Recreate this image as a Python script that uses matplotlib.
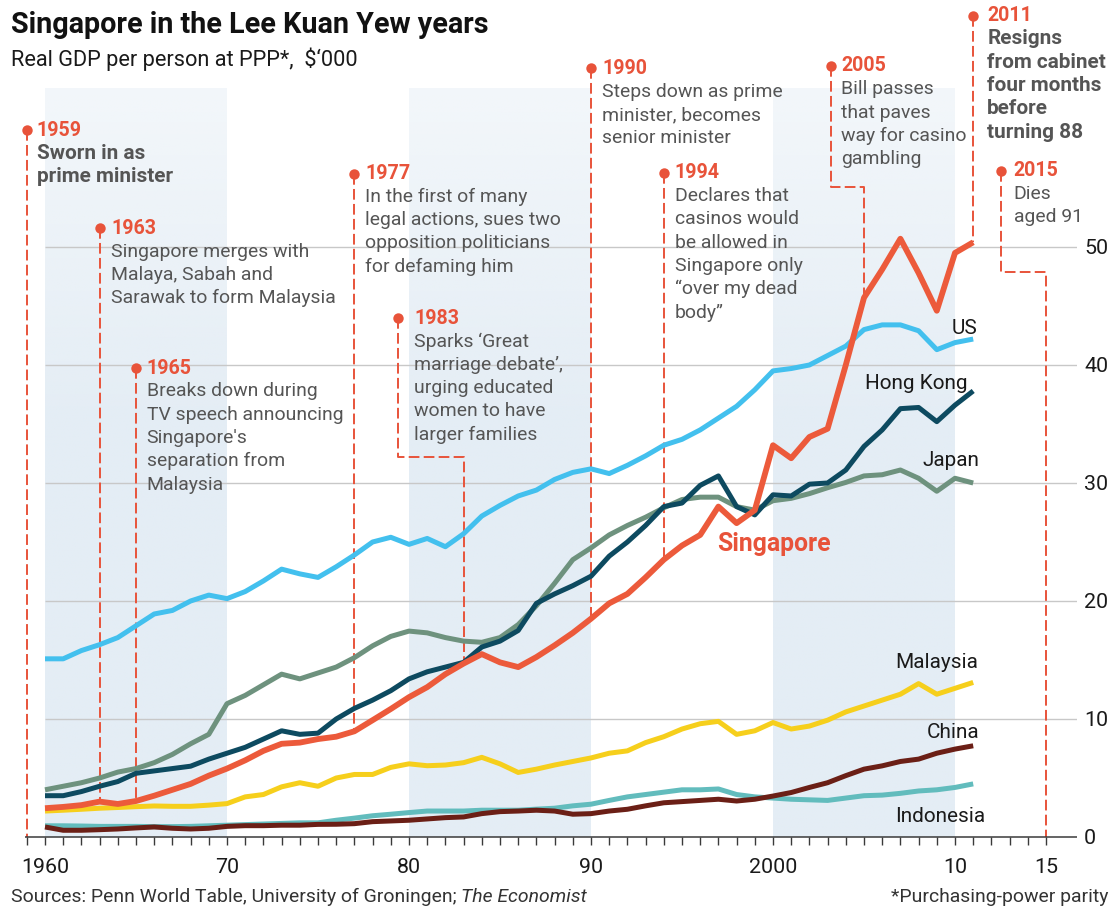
import matplotlib
matplotlib.use("Agg")
import numpy as np
import matplotlib.pyplot as plt

# ---------------- data (Real GDP per person at PPP, $'000) ----------------
years = list(range(1960, 2012))

us = [15.1, 15.1, 15.8, 16.3, 16.9, 17.9, 18.9, 19.2, 20.0, 20.5,
      20.2, 20.8, 21.7, 22.7, 22.3, 22.0, 22.9, 23.9, 25.0, 25.4,
      24.8, 25.3, 24.6, 25.7, 27.2, 28.1, 28.9, 29.4, 30.3, 30.9,
      31.2, 30.8, 31.5, 32.3, 33.2, 33.7, 34.5, 35.5, 36.5, 37.9,
      39.5, 39.7, 40.0, 40.8, 41.6, 43.0, 43.4, 43.4, 42.9, 41.3,
      41.9, 42.2]

hong_kong = [3.5, 3.5, 3.85, 4.3, 4.7, 5.4, 5.6, 5.8, 6.0, 6.6,
             7.1, 7.6, 8.3, 9.0, 8.7, 8.8, 10.0, 10.9, 11.6, 12.4,
             13.4, 14.0, 14.4, 14.8, 16.1, 16.6, 17.5, 19.8, 20.6, 21.3,
             22.1, 23.8, 25.0, 26.4, 28.0, 28.3, 29.8, 30.6, 28.0, 27.3,
             29.0, 28.9, 29.9, 30.0, 31.1, 33.1, 34.5, 36.3, 36.4, 35.2,
             36.6, 37.8]

japan = [4.0, 4.3, 4.6, 5.0, 5.5, 5.8, 6.3, 7.0, 7.9, 8.7,
         11.3, 12.0, 12.9, 13.8, 13.4, 13.9, 14.4, 15.2, 16.2, 17.0,
         17.45, 17.3, 16.9, 16.6, 16.5, 16.9, 18.0, 19.6, 21.5, 23.5,
         24.5, 25.6, 26.4, 27.1, 27.9, 28.6, 28.8, 28.8, 28.0, 27.7,
         28.5, 28.7, 29.1, 29.6, 30.05, 30.6, 30.7, 31.1, 30.4, 29.3,
         30.4, 30.0]

singapore = [2.44, 2.55, 2.7, 3.0, 2.8, 3.05, 3.5, 4.0, 4.5, 5.2,
             5.8, 6.5, 7.3, 7.9, 8.0, 8.3, 8.5, 8.96, 9.9, 10.85,
             11.85, 12.7, 13.8, 14.7, 15.5, 14.8, 14.4, 15.25, 16.24, 17.3,
             18.5, 19.8, 20.6, 22.0, 23.5, 24.7, 25.6, 28.0, 26.6, 27.7,
             33.2, 32.1, 33.9, 34.6, 40.0, 45.7, 48.1, 50.7, 47.8, 44.6,
             49.5, 50.4]

malaysia = [2.2, 2.27, 2.35, 2.44, 2.5, 2.57, 2.63, 2.6, 2.6, 2.7,
            2.83, 3.4, 3.6, 4.25, 4.6, 4.3, 5.0, 5.3, 5.3, 5.9,
            6.2, 6.04, 6.1, 6.3, 6.75, 6.2, 5.47, 5.75, 6.1, 6.4,
            6.7, 7.1, 7.3, 8.0, 8.5, 9.15, 9.6, 9.8, 8.7, 9.0,
            9.7, 9.15, 9.4, 9.9, 10.6, 11.1, 11.6, 12.1, 13.0, 12.1,
            12.6, 13.1]

china = [0.85, 0.57, 0.57, 0.62, 0.68, 0.77, 0.85, 0.74, 0.68, 0.74,
         0.9, 0.96, 0.96, 1.0, 1.0, 1.07, 1.08, 1.13, 1.3, 1.36,
         1.42, 1.53, 1.64, 1.7, 1.98, 2.15, 2.2, 2.27, 2.2, 1.93,
         1.98, 2.2, 2.35, 2.64, 2.9, 3.0, 3.1, 3.2, 3.05, 3.2,
         3.47, 3.77, 4.2, 4.6, 5.2, 5.75, 6.03, 6.4, 6.6, 7.1,
         7.45, 7.73]

indonesia = [0.95, 0.95, 0.93, 0.9, 0.9, 0.9, 0.88, 0.88, 0.9, 0.95,
             1.0, 1.05, 1.1, 1.15, 1.2, 1.2, 1.42, 1.6, 1.8, 1.93,
             2.07, 2.2, 2.2, 2.2, 2.27, 2.27, 2.27, 2.36, 2.44, 2.64,
             2.78, 3.1, 3.4, 3.6, 3.8, 4.0, 4.0, 4.07, 3.6, 3.4,
             3.3, 3.2, 3.15, 3.1, 3.3, 3.5, 3.55, 3.7, 3.9, 4.0,
             4.2, 4.5]

x_ticks = [1960, 1970, 1980, 1990, 2000, 2010, 2015]
x_tick_labels = ["1960", "70", "80", "90", "2000", "10", "15"]
y_ticks = [0, 10, 20, 30, 40, 50]
decade_bands = [(1960, 1970), (1980, 1990), (2000, 2010)]

# ---------------- style ----------------
FONT = "Roboto"
plt.rcParams["font.family"] = [FONT, "DejaVu Sans"]
RED = "#e8533a"
C_US = "#43c0ee"
C_HK = "#0d4a60"
C_JP = "#6e927e"
C_SG = "#ec5a3b"
C_MY = "#f6cf1c"
C_CN = "#6b1f16"
C_ID = "#62bcbd"
TXT = "#555555"
BAND = "#e4edf5"

W, H = 1113, 908
fig = plt.figure(figsize=(W / 100, H / 100), dpi=100)
renderer = fig.canvas.get_renderer()

# pixel geometry of the plot
X1960, PX_YR = 45.0, 18.2
Y0, PX_V = 837.0, 11.8
left_px, right_px = 8.6, 1077.0
xmin = 1960 + (left_px - X1960) / PX_YR
xmax = 1960 + (right_px - X1960) / PX_YR
ymax = Y0 / PX_V

ax = fig.add_axes([left_px / W, (H - Y0) / H, (right_px - left_px) / W, Y0 / H])
for s in ax.spines.values():
    s.set_visible(False)


def fit(s, width, **kw):
    t = fig.text(0, 0, s, fontsize=20, **kw)
    w = t.get_window_extent(renderer).width
    t.remove()
    return 20.0 * width / w


fs_desc = fit("Singapore merges with", 197)
fs_desc_b = fit("prime minister", 136, fontweight="bold")
fs_year = fit("1963", 45, fontweight="bold")
fs_lab = fit("Hong Kong", 103)
fs_sg = fit("Singapore", 113, fontweight="bold")
fs_tick = fit("2000", 48)
fs_title = fit("Singapore in the Lee Kuan Yew years", 476, fontweight="bold")
fs_sub = fit("Real GDP per person at PPP*,  $‘000", 346)
fs_foot = fit("*Purchasing-power parity", 217)

# bands with a soft fade at the top
band_top = (Y0 - 88) / PX_V
n = 200
alpha = np.clip(1.0 - np.clip((np.linspace(0, 1, n) - 0.55) / 0.45, 0, 1) * 0.55, 0, 1)
rgb = matplotlib.colors.to_rgb(BAND)
grad = np.zeros((n, 1, 4))
grad[:, 0, :3] = rgb
grad[:, 0, 3] = alpha
for a, b in decade_bands:
    ax.imshow(grad, extent=(a, b, 0, band_top), origin="lower", aspect="auto",
              zorder=0, interpolation="bilinear")

# grid lines & axis line
ax.hlines([v for v in y_ticks if v > 0], 1960, xmax, color="#c8c8c8", lw=1.0, zorder=1)
ax.hlines(0, 1958.9, xmax, color="#3a3a3a", lw=1.1, zorder=3, clip_on=False)

ax.set_xlim(xmin, xmax)
ax.set_ylim(0, ymax)
ax.set_xticks(x_ticks)
ax.set_xticklabels(x_tick_labels)
ax.set_xticks(list(range(1959, 2016)), minor=True)
ax.tick_params(axis="x", which="both", direction="out", length=6.0, width=1.0,
               color="#3a3a3a", labelsize=fs_tick, pad=9, labelcolor="#1a1a1a")
ax.set_yticks(y_ticks)
ax.set_yticklabels([str(v) for v in y_ticks])
ax.yaxis.tick_right()
ax.tick_params(axis="y", length=0, pad=5, labelsize=fs_tick, labelcolor="#1a1a1a")

# ---------------- annotations (dashed event lines) ----------------
sg_at = dict(zip(years, singapore))


def val_px(ypx):
    return (Y0 - ypx) / PX_V


events = [
    # label, lines, bold text, dot year, dot y (px), elbow y (px) or None, line year, ends on Singapore?, text offset
    ("1959", ["Sworn in as", "prime minister"], True, 1959.0, 130, None, 1959.0, False, 10),
    ("1963", ["Singapore merges with", "Malaya, Sabah and", "Sarawak to form Malaysia"], False,
     1963.0, 228.3, None, 1963.0, True, 11.5),
    ("1965", ["Breaks down during", "TV speech announcing", "Singapore's", "separation from", "Malaysia"],
     False, 1965.0, 368, None, 1965.0, True, 10.5),
    ("1977", ["In the first of many", "legal actions, sues two", "opposition politicians",
              "for defaming him"], False, 1977.0, 173.5, None, 1977.0, True, 11),
    ("1983", ["Sparks ‘Great", "marriage debate’,", "urging educated", "women to have",
              "larger families"], False, 1979.4, 318.3, 457, 1983.0, True, 16),
    ("1990", ["Steps down as prime", "minister, becomes", "senior minister"], False,
     1990.0, 68.3, None, 1990.0, True, 11),
    ("1994", ["Declares that", "casinos would", "be allowed in", "Singapore only",
              "“over my dead", "body”"], False, 1994.0, 172.7, None, 1994.0, True, 11),
    ("2005", ["Bill passes", "that paves", "way for casino", "gambling"], False,
     2003.2, 66, 186.7, 2005.0, True, 10),
    ("2011", ["Resigns", "from cabinet", "four months", "before", "turning 88"], True,
     2011.0, 15.5, None, 2011.0, True, 14),
    ("2015", ["Dies", "aged 91"], False, 2012.5, 170.7, 271.7, 2015.0, False, 13),
]

dash_kw = dict(color=RED, lw=1.4, dashes=(5.5, 2.2), zorder=2, clip_on=False)
for lab, lines, bold, dx, dy_px, elbow_px, lx, on_sg, off in events:
    dy = val_px(dy_px)
    end = sg_at[int(lx)] if on_sg else 0
    if elbow_px is None:
        ax.plot([dx, dx], [dy, end], **dash_kw)
    else:
        ey = val_px(elbow_px)
        ax.plot([dx, dx, lx, lx], [dy, ey, ey, end], **dash_kw)
    ax.plot([dx], [dy], "o", ms=7.5, color=RED, mec="none", zorder=6, clip_on=False)
    ax.annotate(lab, (dx, dy), xytext=(off, 0), textcoords="offset pixels",
                fontsize=fs_year, fontweight="bold", color=RED, va="center", ha="left",
                zorder=7, annotation_clip=False)
    for i, ln in enumerate(lines):
        ax.annotate(ln, (dx, dy), xytext=(off, -(i + 1) * 23.3), textcoords="offset pixels",
                    fontsize=fs_desc_b if bold else fs_desc,
                    fontweight="bold" if bold else "normal",
                    color=TXT, va="center", ha="left", zorder=7, annotation_clip=False)

# ---------------- series ----------------
series = [
    (indonesia, C_ID, 3.6),
    (china, C_CN, 3.6),
    (malaysia, C_MY, 3.6),
    (japan, C_JP, 3.6),
    (us, C_US, 3.6),
    (hong_kong, C_HK, 3.6),
    (singapore, C_SG, 4.2),
]
for vals, c, lw in series:
    ax.plot(years, vals, color=c, lw=lw, solid_joinstyle="round",
            solid_capstyle="butt", zorder=4)

# series labels (left x in px, baseline y in px)
labels = [
    ("US", 951.7, 334, False, "#1a1a1a"),
    ("Hong Kong", 865, 389, False, "#1a1a1a"),
    ("Japan", 922.7, 466, False, "#1a1a1a"),
    ("Singapore", 716.7, 550.7, True, RED),
    ("Malaysia", 895, 667.7, False, "#1a1a1a"),
    ("China", 926.7, 737.7, False, "#1a1a1a"),
    ("Indonesia", 895, 822.3, False, "#1a1a1a"),
]
for s, xp, yp, b, c in labels:
    ax.text(1960 + (xp - X1960) / PX_YR, val_px(yp), s,
            fontsize=fs_sg if b else fs_lab, fontweight="bold" if b else "normal",
            color=c, ha="left", va="baseline", zorder=8)

# ---------------- titles & footer ----------------
fig.text(10.7 / W, 1 - 33 / H, "Singapore in the Lee Kuan Yew years",
         fontsize=fs_title, fontweight="bold", color="#111111", va="baseline", ha="left")
fig.text(10.7 / W, 1 - 66 / H, "Real GDP per person at PPP*,  $‘000",
         fontsize=fs_sub, color="#1a1a1a", va="baseline", ha="left")

t1 = fig.text(10.7 / W, 1 - 902 / H, "Sources: Penn World Table, University of Groningen; ",
              fontsize=fs_foot, color="#333333", va="baseline", ha="left")
bb = t1.get_window_extent(renderer)
fig.text(bb.x1 / W, 1 - 902 / H, "The Economist", fontsize=fs_foot, style="italic",
         color="#333333", va="baseline", ha="left")
fig.text(1108 / W, 1 - 902 / H, "*Purchasing-power parity", fontsize=fs_foot,
         color="#333333", va="baseline", ha="right")

fig.savefig("out.png", dpi=100, facecolor="white")
